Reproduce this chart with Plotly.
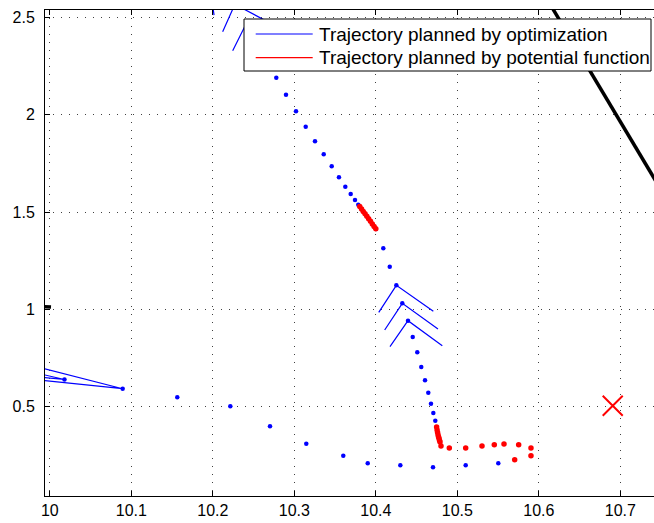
import plotly.graph_objects as go

# ---------------- data ----------------
# Blue dots: trajectory planned by optimization
opt_x = [10.2779, 10.2898, 10.3021, 10.3140, 10.3254, 10.3361, 10.3459, 10.3548,
         10.3626, 10.3692, 10.3745, 10.3785, 10.4002, 10.4092, 10.4171, 10.4252,
         10.4325, 10.4395, 10.4453, 10.4509, 10.4558, 10.4604, 10.4644, 10.4677,
         10.4706, 10.4730,
         10.5503, 10.5103, 10.4702, 10.4301, 10.3901, 10.3601, 10.3147, 10.2702,
         10.2215, 10.1564, 10.0894, 10.0180]
opt_y = [2.1898, 2.1025, 2.0172, 1.9381, 1.8631, 1.7964, 1.7347, 1.6782,
         1.6299, 1.5925, 1.5616, 1.5375, 1.4127, 1.3136, 1.2191, 1.1235,
         1.0311, 0.9417, 0.8580, 0.7794, 0.7039, 0.6356, 0.5719, 0.5154,
         0.4676, 0.4281,
         0.2093, 0.1990, 0.1888, 0.1990, 0.2093, 0.2483, 0.3100, 0.3993,
         0.5020, 0.5483, 0.5924, 0.6397]

# Red dots: trajectory planned by potential function
pot_x = [10.3803, 10.3825, 10.3846, 10.3868, 10.3890, 10.3912, 10.3935, 10.3957,
         10.3979, 10.4000,
         10.4746, 10.4752, 10.4758, 10.4764, 10.4770, 10.4776, 10.4782, 10.4788,
         10.4800, 10.4902, 10.5103, 10.5303, 10.5454, 10.5573, 10.5753, 10.5904,
         10.5904, 10.5704]
pot_y = [1.528, 1.516, 1.503, 1.491, 1.478, 1.465, 1.452, 1.439,
         1.426, 1.414,
         0.3962, 0.3808, 0.3680, 0.3552, 0.3449, 0.3367, 0.3264, 0.3187,
         0.2982, 0.2879, 0.2879, 0.2982, 0.3048, 0.3084, 0.3048, 0.2879,
         0.2483, 0.2278]

# Chevron-shaped heading marks (arm end A, vertex, arm end B)
chev_ax = [10.4036, 10.4109, 10.4174, 9.9757, 9.9757, 10.2121, 10.2244, 10.1996]
chev_ay = [0.9848, 0.8939, 0.8082, 0.7147, 0.6808, 2.4260, 2.3285, 2.5730]
chev_vx = [10.4252, 10.4325, 10.4395, 10.0894, 10.0180, 10.2271, 10.2432, 10.2015]
chev_vy = [1.1235, 1.0311, 0.9417, 0.5924, 0.6397, 2.5668, 2.4860, 2.5110]
chev_bx = [10.4706, 10.4763, 10.4816, 9.9757, 9.9757, 10.2886, 10.3070, 10.2015]
chev_by = [0.9900, 0.8991, 0.8133, 0.6415, 0.6577, 2.4296, 2.3475, 2.5110]

# Obstacles (thick black lines)
obs_x = [10.60, 10.76, None, 9.970, 10.0015]
obs_y = [2.664, 1.544, None, 1.020, 1.012]

# Goal
goal_x = [10.6907]
goal_y = [0.505]

x_ticks = [10, 10.1, 10.2, 10.3, 10.4, 10.5, 10.6, 10.7]
x_tick_text = ["10", "10.1", "10.2", "10.3", "10.4", "10.5", "10.6", "10.7"]
y_ticks = [0.5, 1, 1.5, 2, 2.5]
y_tick_text = ["0.5", "1", "1.5", "2", "2.5"]

legend_labels = ["Trajectory planned by optimization",
                 "Trajectory planned by potential function"]
legend_colors = ["#0000ff", "#ff0000"]

# ---------------- figure ----------------
cx, cy = [], []
for ax_, ay_, vx_, vy_, bx_, by_ in zip(chev_ax, chev_ay, chev_vx, chev_vy, chev_bx, chev_by):
    cx += [ax_, vx_, bx_, None]
    cy += [ay_, vy_, by_, None]

fig = go.Figure()
fig.add_trace(go.Scatter(x=cx, y=cy, mode="lines",
                         line=dict(color="#0000ff", width=1.2),
                         showlegend=False, hoverinfo="skip"))
fig.add_trace(go.Scatter(x=obs_x, y=obs_y, mode="lines",
                         line=dict(color="black", width=3.5),
                         showlegend=False))
fig.add_trace(go.Scatter(x=opt_x, y=opt_y, mode="markers",
                         marker=dict(color="#0000ff", size=4.5),
                         name=legend_labels[0], showlegend=False))
fig.add_trace(go.Scatter(x=pot_x, y=pot_y, mode="markers",
                         marker=dict(color="#ff0000", size=5.5),
                         name=legend_labels[1], showlegend=False))
fig.add_trace(go.Scatter(x=goal_x, y=goal_y, mode="markers",
                         marker=dict(symbol="x-thin", size=20, color="#ff0000",
                                     line=dict(color="#ff0000", width=2)),
                         showlegend=False))

axis_common = dict(
    showline=True, linecolor="black", linewidth=1,
    ticks="inside", ticklen=5, tickcolor="black",
    showgrid=True, gridcolor="rgba(0,0,0,0.75)", gridwidth=1, griddash="1px,7px",
    zeroline=False,
    tickfont=dict(family="Arial, Liberation Sans, sans-serif", size=16, color="black"),
)

fig.update_xaxes(range=[9.99411, 10.74135], tickvals=x_ticks, ticktext=x_tick_text,
                 mirror="allticks", **axis_common)
fig.update_yaxes(range=[0.0414, 2.5375], tickvals=y_ticks, ticktext=y_tick_text,
                 mirror=False, ticklabelstandoff=6, **axis_common)

W, H = 654, 523
L, R, T, B = 45, 654, 10, 496

def px(p):
    return (p - L) / (R - L)

def py(p):
    return (B - p) / (B - T)

shapes = [dict(type="rect", xref="paper", yref="paper",
               x0=px(244), x1=px(651), y0=py(71), y1=py(19),
               line=dict(color="black", width=1), fillcolor="white", layer="above")]
annotations = []
rows = [34, 57.7]
for lab, col, r in zip(legend_labels, legend_colors, rows):
    shapes.append(dict(type="line", xref="paper", yref="paper",
                       x0=px(255.7), x1=px(312.7), y0=py(r), y1=py(r),
                       line=dict(color=col, width=1.2), layer="above"))
    annotations.append(dict(xref="paper", yref="paper", x=px(317), y=py(r),
                            text=lab, showarrow=False, xanchor="left", yanchor="middle",
                            font=dict(family="Arial, Liberation Sans, sans-serif",
                                      size=19, color="black")))

fig.update_layout(
    width=W, height=H,
    margin=dict(l=L, r=W - R, t=T, b=H - B, pad=0),
    plot_bgcolor="white", paper_bgcolor="white",
    shapes=shapes, annotations=annotations,
    showlegend=False,
)

fig.write_html(
    "out.html",
    config={"displayModeBar": False},
    post_script="document.body.style.margin='0';document.body.style.overflow='hidden';",
)
